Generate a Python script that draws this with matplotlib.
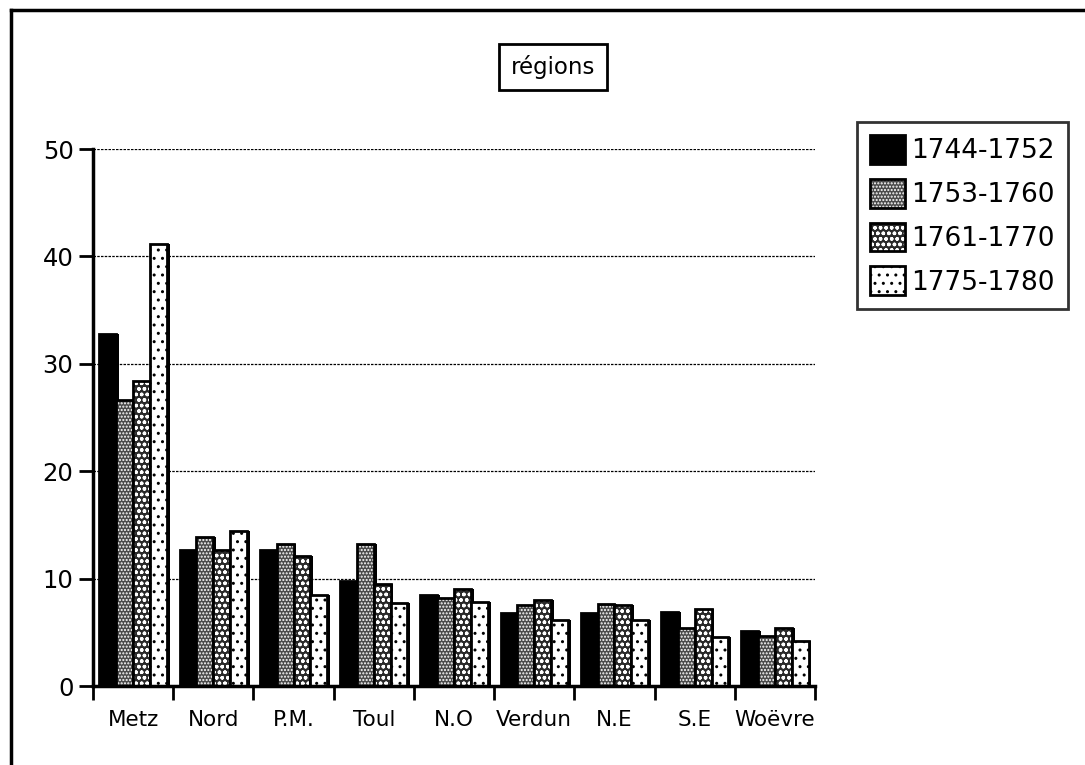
import numpy as np
import matplotlib
matplotlib.use('Agg')
import matplotlib.pyplot as plt
from matplotlib.patches import Rectangle

regions = ['Metz', 'Nord', 'P.M.', 'Toul', 'N.O', 'Verdun', 'N.E', 'S.E', 'Woëvre']
periods = ['1744-1752', '1753-1760', '1761-1770', '1775-1780']
v_1744 = [32.8, 12.7, 12.7, 9.8, 8.5, 6.8, 6.8, 6.9, 5.1]
v_1753 = [26.6, 13.9, 13.2, 13.2, 8.2, 7.5, 7.6, 5.4, 4.7]
v_1761 = [28.4, 12.7, 12.1, 9.5, 9.0, 8.0, 7.5, 7.2, 5.4]
v_1775 = [41.2, 14.4, 8.5, 7.7, 7.8, 6.1, 6.1, 4.6, 4.2]
series = [v_1744, v_1753, v_1761, v_1775]

# fill, hatch, hatch colour for each period
styles = [('black', None, 'black'),
          ('#4a4a4a', '.....', 'white'),
          ('#2a2a2a', 'ooo', 'white'),
          ('white', '..', 'black')]

plt.rcParams['font.family'] = 'DejaVu Sans'
plt.rcParams['hatch.linewidth'] = 1.0

fig = plt.figure(figsize=(10.85, 7.65), dpi=100)
ax = fig.add_axes([93 / 1085, 79 / 765, 722 / 1085, 537 / 765])

x = np.arange(len(regions))
w = 0.21
for j, vals in enumerate(series):
    fc, hatch, hc = styles[j]
    pos = x + 0.5 + (j - 1.5) * w
    # shadow for the pseudo-3D look
    ax.bar(pos + 0.035, vals, w, color='black', zorder=2 + j * 3)
    ax.bar(pos, vals, w, color=fc, hatch=hatch, edgecolor=hc, linewidth=0, zorder=3 + j * 3)
    ax.bar(pos, vals, w, facecolor='none', edgecolor='black', linewidth=2, zorder=4 + j * 3)

ax.set_xlim(0, len(regions))
ax.set_ylim(0, 50)
ax.set_yticks([0, 10, 20, 30, 40, 50])
ax.set_xticks(np.arange(len(regions) + 1))
ax.set_xticklabels([])
ax.set_xticks(x + 0.5, minor=True)
ax.set_xticklabels(regions, minor=True, fontsize=15.5)
ax.tick_params(axis='x', which='minor', length=0, pad=17)
ax.tick_params(axis='x', which='major', direction='out', length=10, width=2)
ax.tick_params(axis='y', direction='out', length=10, width=2, labelsize=17.5, pad=4)
ax.yaxis.grid(True, linestyle=(0, (2, 1)), color='black', linewidth=0.9)
ax.set_axisbelow(True)
for s in ['top', 'right']:
    ax.spines[s].set_visible(False)
for s in ['left', 'bottom']:
    ax.spines[s].set_linewidth(2.5)
    ax.spines[s].set_zorder(20)

fig.text(553 / 1085, 1 - 67 / 765, 'régions', ha='center', va='center', fontsize=16.5,
         bbox=dict(boxstyle='square,pad=0.5', facecolor='white', edgecolor='black', linewidth=2))

handles = []
for j in range(4):
    fc, hatch, hc = styles[j]
    fill = Rectangle((0, 0), 1, 1, facecolor=fc, hatch=hatch, edgecolor=hc, linewidth=0)
    edge = Rectangle((0, 0), 1, 1, facecolor='none', edgecolor='black', linewidth=2)
    handles.append((fill, edge))
leg = fig.legend(handles, periods, loc='upper left', bbox_to_anchor=(857 / 1085, 1 - 122 / 765),
                 fontsize=19, frameon=True, fancybox=False, edgecolor='black',
                 handlelength=1.3, handleheight=1.3, handletextpad=0.25, labelspacing=0.55,
                 borderpad=0.5, borderaxespad=0)
leg.get_frame().set_linewidth(2)

# page border (top and left only)
fig.add_artist(plt.Line2D([11 / 1085, 11 / 1085], [0, 1 - 10 / 765], color='black', linewidth=2.5))
fig.add_artist(plt.Line2D([11 / 1085, 1], [1 - 10 / 765, 1 - 10 / 765], color='black', linewidth=2.5))

fig.savefig('out.png', dpi=100)
